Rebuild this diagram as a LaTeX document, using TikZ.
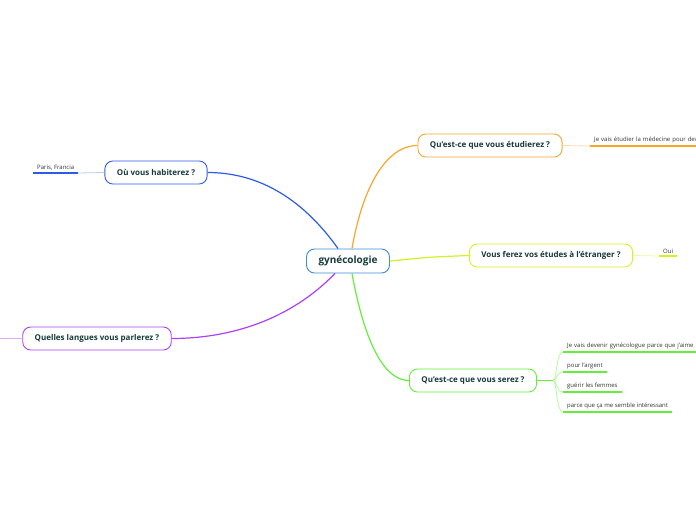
\documentclass[tikz,border=0pt]{standalone}
\usepackage{fontspec}
\setmainfont{Open Sans}
\usetikzlibrary{positioning}
\definecolor{txtdark}{HTML}{173A3A}
\definecolor{leaftxt}{HTML}{333333}
\definecolor{ctrblue}{HTML}{3D8FD8}
\definecolor{brorange}{HTML}{F7A52B}
\definecolor{ltorange}{HTML}{FDDCA8}
\definecolor{brblue}{HTML}{2D5BE8}
\definecolor{ltblue}{HTML}{B8C8F8}
\definecolor{bryellow}{HTML}{D6F020}
\definecolor{ltyellow}{HTML}{EEF8A8}
\definecolor{brpurple}{HTML}{AE3FF5}
\definecolor{ltpurple}{HTML}{DDB0F8}
\definecolor{brgreen}{HTML}{62EE3A}
\definecolor{ltgreen}{HTML}{B4F8A4}

\begin{document}
\begin{tikzpicture}[
    x=1pt, y=-1pt,
    every node/.style={text=txtdark},
    centerbox/.style={rectangle, draw=ctrblue, line width=0.9pt, rounded corners=8pt, fill=white,
        minimum height=24pt, inner xsep=12pt, font=\fontsize{10}{12}\selectfont\bfseries},
    topicbox/.style={rectangle, draw=#1, line width=0.9pt, rounded corners=8pt, fill=white,
        minimum height=23pt, inner xsep=12pt, font=\fontsize{8}{10}\selectfont\bfseries},
    leaf/.style={anchor=south west, inner xsep=4pt, inner ysep=2.5pt, text=leaftxt,
        font=\fontsize{6}{7}\selectfont},
    branch/.style={draw=#1, line width=1.2pt},
    twig/.style={draw=#1, line width=0.8pt},
    under/.style={draw=#1, line width=2.2pt}
]
\useasboundingbox (0,0) rectangle (696,520);
\clip (0,0) rectangle (696,520);

% central topic and main topics
\node[centerbox] (central) at (348,261) {gynécologie};
\node[topicbox=brorange] (etudes) at (490,145.5) {Qu'est-ce que vous étudierez ?};
\node[topicbox=brblue] (habiter) at (156,172.5) {Où vous habiterez ?};
\node[topicbox=bryellow] (etranger) at (551,255.5) {Vous ferez vos études à l'étranger ?};
\node[topicbox=brpurple] (langues) at (97,338.5) {Quelles langues vous parlerez ?};
\node[topicbox=brgreen] (serez) at (473,380.5) {Qu'est-ce que vous serez ?};

% leaves
\node[leaf, align=left, text width=140pt] (medecine) at (590,146) {Je vais étudier la médecine pour deve};
\node[leaf] (paris) at (33,173) {Paris, Francia};
\node[leaf] (oui) at (659,256) {Oui};
\node[leaf, align=left, text width=170pt] (aime) at (563,352) {Je vais devenir gynécologue parce que j'aime l};
\node[leaf] (argent) at (563,372) {pour l'argent};
\node[leaf] (femmes) at (563,392) {guérir les femmes};
\node[leaf] (interes) at (563,412) {parce que ça me semble intéressant};
\coordinate (langleft) at (0,338.5);
\coordinate (serezhub) at (553,380.5);

% main branches
\path[branch=brorange] ([xshift=4pt]central.north) .. controls (362,190) and (385,145.5) .. (etudes.west);
\path[branch=brblue] ([xshift=-10pt]central.north) .. controls (300,195) and (255,172.5) .. (habiter.east);
\path[branch=bryellow] (central.east) .. controls (430,257) .. (etranger.west);
\path[branch=brpurple] ([xshift=-13pt]central.south) .. controls (290,320) and (230,338.5) .. (langues.east);
\path[branch=brgreen] ([xshift=4pt]central.south) .. controls (365,345) and (385,380.5) .. (serez.west);

% twigs to leaves
\path[twig=ltorange] (etudes.east) -- (medecine.south west);
\path[twig=ltblue] (habiter.west) -- (paris.south east);
\path[twig=ltyellow] (etranger.east) -- (oui.south west);
\path[twig=ltpurple] (langues.west) -- (langleft);
\path[branch=brgreen] (serez.east) -- (serezhub);
\foreach \lf in {aime, argent, femmes, interes}
    \path[twig=ltgreen] (serezhub) .. controls +(4,0) and +(-7,0) .. (\lf.south west);

% underlines
\path[under=brorange] (medecine.south west) -- (medecine.south east);
\path[under=brblue] (paris.south west) -- (paris.south east);
\path[under=bryellow] (oui.south west) -- (oui.south east);
\foreach \lf in {aime, argent, femmes, interes}
    \path[under=brgreen] (\lf.south west) -- (\lf.south east);
\end{tikzpicture}
\end{document}
